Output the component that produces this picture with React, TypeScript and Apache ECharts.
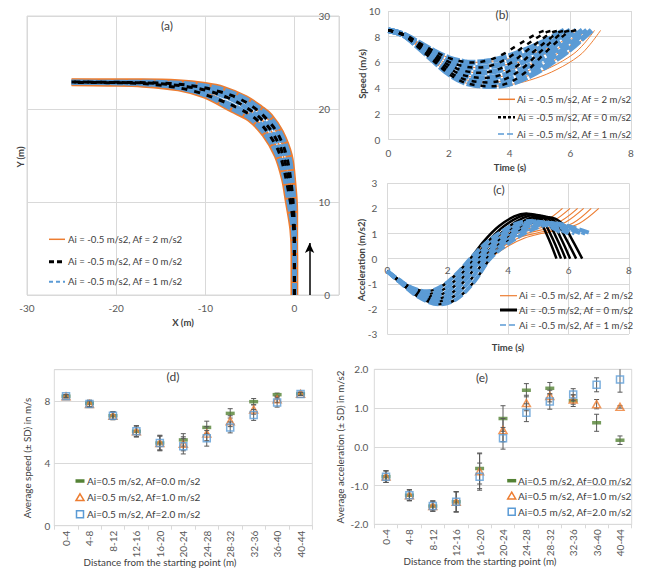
import { useEffect, useRef } from "react";
import * as echarts from "echarts";

type Pt = [number, number];

const ORANGE = "#ED7D31";
const BLACK = "#000000";
const BLUE = "#5B9BD5";
const GREEN = "#548235";
const GRIDC = "#D9D9D9";
const LABELC = "#595959";
const TEXTC = "#404040";
const FONT = "Lato, 'Liberation Sans', sans-serif";
const TICK = 10;
const LEG = 9.6;

// ---- legend texts ----
const familyNames = [
  "Ai = -0.5 m/s2, Af = 2 m/s2",
  "Ai = -0.5 m/s2, Af = 0 m/s2",
  "Ai = -0.5 m/s2, Af = 1 m/s2",
];
const avgNames = [
  "Ai=0.5 m/s2, Af=0.0 m/s2",
  "Ai=0.5 m/s2, Af=1.0 m/s2",
  "Ai=0.5 m/s2, Af=2.0 m/s2",
];

// ---- (a) trajectories X/Y (m) ----
const pathOuter: Pt[] = [[0, 0], [0, 6], [0, 9], [-0.2, 12], [-0.6, 15], [-1.6, 17.5], [-2.8, 19.2], [-3.8, 20], [-5.5, 21.1], [-8, 22.1], [-10, 22.5], [-13, 22.8], [-17, 22.9], [-25, 22.9]];
const pathMid1: Pt[] = [[0, 0], [0, 5.5], [-0.05, 8.5], [-0.3, 11.5], [-0.9, 15], [-1.9, 17.4], [-3.2, 19], [-4.6, 20.2], [-6.4, 21.2], [-8.5, 21.9], [-10.8, 22.4], [-14, 22.75], [-18, 22.85], [-25, 22.9]];
const pathMid2: Pt[] = [[0, 0], [0, 5], [-0.1, 8], [-0.4, 11], [-1.25, 15], [-2.3, 17.2], [-3.7, 18.9], [-5.3, 20.1], [-7.2, 21.1], [-9.5, 21.9], [-12, 22.4], [-15.5, 22.75], [-20, 22.85], [-25, 22.9]];
const pathMid3: Pt[] = [[0, 0], [0, 4.5], [-0.12, 7.5], [-0.55, 10.5], [-1.6, 15], [-2.8, 17.2], [-4.3, 18.9], [-6.1, 20], [-8.5, 21], [-11.2, 21.9], [-14.5, 22.5], [-18.5, 22.8], [-25, 22.85]];
const pathInner: Pt[] = [[0, 0], [0, 4], [-0.15, 7], [-0.65, 10], [-1.1, 12.5], [-1.9, 15], [-3.3, 17.3], [-5, 19], [-7, 20], [-10, 21.5], [-13, 22.3], [-17, 22.7], [-21, 22.8], [-25, 22.85]];
const arrowA: Pt[] = [[1.7, 0], [1.7, 5.6]];

// ---- (b) speed (m/s) vs time (s) ----
const speedDescent: Pt[][] = [
  [[0, 8.5], [0.5, 8.2], [1, 7.55], [1.5, 6.9], [2, 6.35], [2.5, 6.05], [2.75, 6.0]],
  [[0, 8.5], [0.5, 8.18], [1, 7.45], [1.5, 6.7], [2, 6.05], [2.5, 5.7], [2.88, 5.6]],
  [[0, 8.5], [0.5, 8.16], [1, 7.38], [1.5, 6.55], [2, 5.8], [2.5, 5.35], [3.0, 5.2]],
  [[0, 8.5], [0.5, 8.15], [1, 7.3], [1.5, 6.4], [2, 5.55], [2.5, 5.0], [3.13, 4.8]],
  [[0, 8.5], [0.5, 8.14], [1, 7.22], [1.5, 6.25], [2, 5.3], [2.5, 4.7], [3.27, 4.45]],
  [[0, 8.5], [0.5, 8.12], [1, 7.15], [1.5, 6.1], [2, 5.1], [2.5, 4.45], [3, 4.2], [3.4, 4.15]],
];
const speedRiseAf0: Pt[][] = [
  [[3.26, 6.15], [3.77, 6.63], [4.28, 7.38], [4.79, 8.1], [5.05, 8.4], [5.3, 8.5]],
  [[3.4, 5.77], [3.93, 6.33], [4.45, 7.2], [4.98, 8.04], [5.24, 8.38], [5.5, 8.5]],
  [[3.54, 5.4], [4.08, 6.03], [4.62, 7.02], [5.16, 7.97], [5.43, 8.37], [5.7, 8.5]],
  [[3.68, 5.02], [4.24, 5.73], [4.79, 6.84], [5.35, 7.91], [5.62, 8.35], [5.9, 8.5]],
  [[3.83, 4.69], [4.38, 5.46], [4.94, 6.68], [5.49, 7.85], [5.77, 8.34], [6.05, 8.5]],
  [[3.96, 4.41], [4.52, 5.24], [5.08, 6.54], [5.64, 7.8], [5.92, 8.33], [6.2, 8.5]],
];
const speedRiseAf1: Pt[][] = [
  [[3.36, 6.13], [3.97, 6.5], [4.58, 7.05], [5.19, 7.7], [5.5, 8.1], [5.8, 8.5]],
  [[3.5, 5.75], [4.13, 6.18], [4.75, 6.82], [5.38, 7.57], [5.69, 8.04], [6.0, 8.5]],
  [[3.64, 5.37], [4.28, 5.86], [4.92, 6.59], [5.56, 7.44], [5.88, 7.97], [6.2, 8.5]],
  [[3.78, 4.99], [4.44, 5.54], [5.09, 6.35], [5.75, 7.32], [6.07, 7.91], [6.4, 8.5]],
  [[3.93, 4.65], [4.58, 5.26], [5.24, 6.15], [5.9, 7.2], [6.22, 7.85], [6.55, 8.5]],
  [[4.06, 4.37], [4.72, 5.02], [5.38, 5.98], [6.04, 7.11], [6.37, 7.8], [6.7, 8.5]],
];
const speedRiseAf2: Pt[][] = [
  [[3.44, 6.1], [4.13, 6.35], [4.82, 6.75], [5.51, 7.35], [5.86, 7.85], [6.2, 8.5]],
  [[3.57, 5.72], [4.27, 6.01], [4.96, 6.47], [5.66, 7.17], [6.0, 7.75], [6.35, 8.5]],
  [[3.7, 5.33], [4.4, 5.66], [5.1, 6.19], [5.8, 6.98], [6.15, 7.64], [6.5, 8.5]],
  [[3.83, 4.95], [4.54, 5.32], [5.24, 5.91], [5.95, 6.8], [6.3, 7.54], [6.65, 8.5]],
  [[3.98, 4.61], [4.68, 5.02], [5.39, 5.67], [6.09, 6.64], [6.45, 7.45], [6.8, 8.5]],
  [[4.12, 4.32], [4.84, 4.76], [5.56, 5.46], [6.28, 6.5], [6.64, 7.37], [7.0, 8.5]],
];

// ---- (c) acceleration (m/s2) vs time (s) ----
const accDescent: Pt[][] = [
  [[0, -0.5], [0.4, -0.85], [0.8, -1.15], [1.3, -1.3], [1.8, -1.1], [2.3, -0.6], [2.75, 0]],
  [[0, -0.5], [0.4, -0.87], [0.85, -1.2], [1.38, -1.4], [1.9, -1.2], [2.4, -0.68], [2.88, 0]],
  [[0, -0.5], [0.4, -0.88], [0.9, -1.28], [1.46, -1.5], [2.0, -1.3], [2.5, -0.75], [3.0, 0]],
  [[0, -0.5], [0.4, -0.9], [0.95, -1.37], [1.54, -1.6], [2.1, -1.4], [2.62, -0.8], [3.13, 0]],
  [[0, -0.5], [0.4, -0.91], [1.0, -1.45], [1.62, -1.7], [2.2, -1.5], [2.75, -0.85], [3.27, 0]],
  [[0, -0.5], [0.4, -0.92], [1.0, -1.5], [1.7, -1.82], [2.3, -1.6], [2.9, -0.88], [3.4, 0]],
];
const accRiseAf0: Pt[][] = [
  [[3.2, 0.7], [3.7, 1.3], [4.2, 1.68], [4.6, 1.8], [5.0, 1.55], [5.3, 0.9], [5.6, 0]],
  [[3.35, 0.7], [3.85, 1.28], [4.35, 1.65], [4.75, 1.78], [5.15, 1.5], [5.45, 0.85], [5.75, 0]],
  [[3.5, 0.7], [4.0, 1.25], [4.5, 1.62], [4.9, 1.75], [5.3, 1.48], [5.6, 0.82], [5.9, 0]],
  [[3.65, 0.7], [4.15, 1.22], [4.65, 1.58], [5.05, 1.72], [5.45, 1.45], [5.75, 0.8], [6.05, 0]],
  [[3.8, 0.7], [4.3, 1.2], [4.8, 1.55], [5.2, 1.68], [5.6, 1.42], [5.92, 0.78], [6.25, 0]],
  [[3.95, 0.7], [4.45, 1.18], [4.95, 1.52], [5.35, 1.65], [5.8, 1.38], [6.12, 0.75], [6.45, 0]],
];
const accRiseAf1: Pt[][] = [
  [[3.25, 0.6], [3.75, 1.05], [4.25, 1.38], [4.75, 1.5], [5.3, 1.32], [5.8, 1.0]],
  [[3.4, 0.6], [3.9, 1.05], [4.4, 1.36], [4.9, 1.48], [5.45, 1.3], [6.0, 1.0]],
  [[3.55, 0.6], [4.05, 1.03], [4.55, 1.34], [5.05, 1.46], [5.65, 1.28], [6.2, 1.0]],
  [[3.7, 0.6], [4.2, 1.0], [4.75, 1.32], [5.25, 1.44], [5.85, 1.27], [6.4, 1.0]],
  [[3.85, 0.6], [4.35, 1.0], [4.9, 1.3], [5.4, 1.42], [6.0, 1.25], [6.55, 1.0]],
  [[4.0, 0.6], [4.5, 0.98], [5.05, 1.28], [5.55, 1.4], [6.15, 1.24], [6.75, 1.0]],
];
const accRiseAf2: Pt[][] = [
  [[3.25, 0.55], [3.75, 0.95], [4.25, 1.15], [4.75, 1.3], [5.3, 1.55], [5.8, 2.0]],
  [[3.4, 0.55], [3.9, 0.93], [4.4, 1.12], [4.95, 1.27], [5.5, 1.5], [6.05, 2.0]],
  [[3.55, 0.52], [4.05, 0.9], [4.6, 1.1], [5.15, 1.25], [5.75, 1.5], [6.3, 2.0]],
  [[3.7, 0.5], [4.2, 0.86], [4.75, 1.05], [5.3, 1.2], [5.9, 1.45], [6.5, 2.0]],
  [[3.85, 0.5], [4.4, 0.85], [4.95, 1.02], [5.5, 1.17], [6.15, 1.42], [6.75, 2.0]],
  [[4.0, 0.5], [4.55, 0.82], [5.1, 1.0], [5.7, 1.15], [6.35, 1.4], [7.0, 2.0]],
];

// ---- (d), (e) averages by distance ----
const distanceCats = ["0-4", "4-8", "8-12", "12-16", "16-20", "20-24", "24-28", "28-32", "32-36", "36-40", "40-44"];
const speedAf0 = [8.3, 7.85, 7.05, 6.05, 5.3, 5.5, 6.3, 7.2, 7.95, 8.4, 8.45];
const speedAf1 = [8.3, 7.8, 7.05, 6.05, 5.3, 5.25, 5.9, 6.7, 7.45, 8.1, 8.45];
const speedAf2 = [8.3, 7.8, 7.05, 6.05, 5.3, 5.1, 5.6, 6.3, 7.1, 7.9, 8.45];
const speedSdAf0 = [0.1, 0.2, 0.25, 0.35, 0.45, 0.4, 0.4, 0.3, 0.2, 0.1, 0.1];
const speedSdAf1 = [0.1, 0.2, 0.25, 0.35, 0.45, 0.45, 0.45, 0.35, 0.3, 0.2, 0.1];
const speedSdAf2 = [0.1, 0.2, 0.25, 0.35, 0.5, 0.5, 0.5, 0.35, 0.35, 0.3, 0.1];
const accAf0 = [-0.77, -1.25, -1.53, -1.42, -0.56, 0.73, 1.46, 1.51, 1.19, 0.62, 0.17];
const accAf1 = [-0.77, -1.25, -1.53, -1.42, -0.63, 0.43, 1.13, 1.31, 1.22, 1.1, 1.03];
const accAf2 = [-0.77, -1.25, -1.53, -1.42, -0.77, 0.22, 0.88, 1.17, 1.35, 1.6, 1.74];
const accSdAf0 = [0.15, 0.14, 0.13, 0.26, 0.4, 0.33, 0.17, 0.15, 0.15, 0.22, 0.11];
const accSdAf1 = [0.15, 0.14, 0.13, 0.26, 0.45, 0.3, 0.2, 0.15, 0.12, 0.12, 0.03];
const accSdAf2 = [0.15, 0.14, 0.13, 0.26, 0.35, 0.28, 0.23, 0.2, 0.15, 0.18, 0.33];

// ---------------- helpers ----------------
const lineS = (data: Pt[], g: number, style: any, z = 2) => ({
  type: "line",
  xAxisIndex: g,
  yAxisIndex: g,
  data,
  symbol: "none",
  showSymbol: false,
  smooth: 0.35,
  lineStyle: style,
  silent: true,
  z,
});

const errS = (vals: number[], sd: number[], g: number, z: number) => ({
  type: "custom",
  xAxisIndex: g,
  yAxisIndex: g,
  data: vals.map((v, i) => [i, v - sd[i], v + sd[i]]),
  encode: { x: 0, y: [1, 2] },
  clip: true,
  silent: true,
  z,
  renderItem: (_p: any, api: any) => {
    const x = api.value(0);
    const top = api.coord([x, api.value(2)]);
    const bot = api.coord([x, api.value(1)]);
    const hw = 2.5;
    const st = { stroke: "#595959", lineWidth: 1 };
    return {
      type: "group",
      children: [
        { type: "line", shape: { x1: top[0], y1: top[1], x2: bot[0], y2: bot[1] }, style: st },
        { type: "line", shape: { x1: top[0] - hw, y1: top[1], x2: top[0] + hw, y2: top[1] }, style: st },
        { type: "line", shape: { x1: bot[0] - hw, y1: bot[1], x2: bot[0] + hw, y2: bot[1] }, style: st },
      ],
    };
  },
});

const scatS = (vals: number[], g: number, kind: number, z: number) => {
  const base: any = {
    type: "scatter",
    xAxisIndex: g,
    yAxisIndex: g,
    data: vals.map((v, i) => [i, v]),
    silent: true,
    z,
  };
  if (kind === 0) {
    base.symbol = "rect";
    base.symbolSize = [9, 3.5];
    base.itemStyle = { color: GREEN };
  } else if (kind === 1) {
    base.symbol = "triangle";
    base.symbolSize = [8, 7];
    base.itemStyle = { color: "rgba(255,255,255,0)", borderColor: ORANGE, borderWidth: 1.5 };
  } else {
    base.symbol = "rect";
    base.symbolSize = 7;
    base.itemStyle = { color: "rgba(255,255,255,0)", borderColor: BLUE, borderWidth: 1.5 };
  }
  return base;
};

const txt = (text: string, x: number, y: number, o: any = {}) => ({
  type: "text",
  x,
  y,
  rotation: o.rot || 0,
  silent: true,
  z: 100,
  style: {
    text,
    font: `${o.bold ? "bold " : ""}${o.size || LEG}px ${FONT}`,
    fill: o.color || TEXTC,
    textAlign: o.align || "center",
    textVerticalAlign: "middle",
  },
});

const seg = (x1: number, x2: number, y: number, stroke: string, lw: number, dash?: number[]) => ({
  type: "line",
  silent: true,
  z: 100,
  shape: { x1, y1: y, x2, y2: y },
  style: { stroke, lineWidth: lw, lineDash: dash || null },
});

const lab = (extra: any = {}) => ({ color: LABELC, fontSize: TICK, fontFamily: FONT, margin: 8, ...extra });

const valueAxis = (g: number, min: number, max: number, interval: number, extra: any = {}) => ({
  type: "value",
  gridIndex: g,
  min,
  max,
  interval,
  axisLine: { show: false, onZero: false },
  axisTick: { show: false },
  splitLine: { show: true, lineStyle: { color: GRIDC, width: 1 } },
  axisLabel: lab(),
  ...extra,
});

const catAxis = (g: number) => ({
  type: "category",
  gridIndex: g,
  data: distanceCats,
  boundaryGap: true,
  axisLine: { show: true, onZero: false, lineStyle: { color: GRIDC } },
  axisTick: { show: true, length: 4, lineStyle: { color: GRIDC } },
  splitLine: { show: false },
  axisLabel: lab({ rotate: 90, margin: 5, interval: 0 }),
});

export default function App() {
  const ref = useRef<HTMLDivElement>(null);

  useEffect(() => {
    document.body.style.margin = "0";
    if (!ref.current) return;
    const chart = echarts.init(ref.current, null, { renderer: "svg" });

    const series: any[] = [];
    // (a): orange rims under a blue band, black dashes on the middle paths
    [pathOuter, pathInner].forEach((p) => series.push(lineS(p, 0, { color: ORANGE, width: 7.5 }, 2)));
    [pathMid2].forEach((p) => series.push(lineS(p, 0, { color: ORANGE, width: 1.5 }, 2)));
    [pathOuter, pathMid1, pathMid2, pathMid3, pathInner].forEach((p) =>
      series.push(lineS(p, 0, { color: BLUE, width: 4.5, type: [12, 2] }, 3))
    );
    [pathMid1, pathMid2, pathMid3].forEach((p) => series.push(lineS(p, 0, { color: BLACK, width: 3, type: [6, 7] }, 4)));
    series.push({
      type: "line",
      xAxisIndex: 0,
      yAxisIndex: 0,
      data: [],
      silent: true,
      markLine: {
        silent: true,
        symbol: ["none", "arrow"],
        symbolSize: [7, 10],
        label: { show: false },
        lineStyle: { color: BLACK, width: 1.5, type: "solid" },
        data: [[{ coord: arrowA[0] }, { coord: arrowA[1] }]],
      },
    });

    // (b)
    speedDescent.forEach((d, k) => series.push(lineS([...d, ...speedRiseAf2[k]], 1, { color: ORANGE, width: 1 }, 2)));
    speedDescent.forEach((d, k) => series.push(lineS([...d, ...speedRiseAf1[k]], 1, { color: BLUE, width: 5.5, type: [14, 2] }, 3)));
    speedDescent.forEach((d, k) => series.push(lineS([...d, ...speedRiseAf0[k]], 1, { color: BLACK, width: 2.5, type: [5, 6] }, 4)));

    // (c)
    accDescent.forEach((d, k) => series.push(lineS([...d, ...accRiseAf2[k]], 2, { color: ORANGE, width: 1.2 }, 2)));
    accDescent.forEach((d, k) => series.push(lineS([...d, ...accRiseAf0[k]], 2, { color: BLACK, width: 2.5 }, 3)));
    accDescent.forEach((d, k) => series.push(lineS([...d, ...accRiseAf1[k]], 2, { color: BLUE, width: 4, type: [10, 3] }, 4)));

    // (d)
    series.push(errS(speedAf0, speedSdAf0, 3, 5), scatS(speedAf0, 3, 0, 6));
    series.push(errS(speedAf1, speedSdAf1, 3, 7), scatS(speedAf1, 3, 1, 8));
    series.push(errS(speedAf2, speedSdAf2, 3, 9), scatS(speedAf2, 3, 2, 10));
    // (e)
    series.push(errS(accAf0, accSdAf0, 4, 5), scatS(accAf0, 4, 0, 6));
    series.push(errS(accAf1, accSdAf1, 4, 7), scatS(accAf1, 4, 1, 8));
    series.push(errS(accAf2, accSdAf2, 4, 9), scatS(accAf2, 4, 2, 10));

    // legends and titles
    const g: any[] = [];
    const la = [239.3, 261.7, 281.7];
    g.push(seg(49, 65, la[0], ORANGE, 1.5));
    g.push(seg(49, 65, la[1], BLACK, 3, [5, 3]));
    g.push(seg(49, 65, la[2], BLUE, 2, [4, 3]));
    familyNames.forEach((n, i) => g.push(txt(n, 68, la[i], { align: "left" })));
    const lb = [99.3, 117.3, 134];
    g.push(seg(498, 515, lb[0], ORANGE, 1.5));
    g.push(seg(498, 515, lb[1], BLACK, 2.5, [3, 2]));
    g.push(seg(498, 515, lb[2], BLUE, 1.5, [6, 3]));
    familyNames.forEach((n, i) => g.push(txt(n, 517, lb[i], { align: "left" })));
    const lc = [295.7, 310, 325];
    g.push(seg(500, 517, lc[0], ORANGE, 1.2));
    g.push(seg(500, 517, lc[1], BLACK, 3));
    g.push(seg(500, 517, lc[2], BLUE, 1.5, [6, 3]));
    familyNames.forEach((n, i) => g.push(txt(n, 519, lc[i], { align: "left" })));
    const legMarkers = (cx: number, ys: number[]) => {
      g.push({ type: "rect", silent: true, z: 100, shape: { x: cx - 4.5, y: ys[0] - 1.75, width: 9, height: 3.5 }, style: { fill: GREEN } });
      g.push({
        type: "polygon",
        silent: true,
        z: 100,
        shape: { points: [[cx, ys[1] - 3.5], [cx + 4, ys[1] + 3.2], [cx - 4, ys[1] + 3.2]] },
        style: { fill: "none", stroke: ORANGE, lineWidth: 1.5 },
      });
      g.push({ type: "rect", silent: true, z: 100, shape: { x: cx - 3.5, y: ys[2] - 3.5, width: 7, height: 7 }, style: { fill: "none", stroke: BLUE, lineWidth: 1.5 } });
    };
    const ld = [481, 497.3, 514.3];
    legMarkers(80, ld);
    avgNames.forEach((n, i) => g.push(txt(n, 87, ld[i], { align: "left", size: 10 })));
    const le = [480.7, 495.7, 511.7];
    legMarkers(511.7, le);
    avgNames.forEach((n, i) => g.push(txt(n, 518, le[i], { align: "left", size: 10 })));

    g.push(txt("(a)", 167, 25, { size: 12 }));
    g.push(txt("(b)", 502, 14, { size: 12 }));
    g.push(txt("(c)", 499, 189, { size: 12 }));
    g.push(txt("(d)", 173, 376, { size: 12 }));
    g.push(txt("(e)", 482, 377, { size: 12 }));
    g.push(txt("Y (m)", 20.7, 157, { bold: true, rot: Math.PI / 2, size: 9.5 }));
    g.push(txt("X (m)", 183, 322, { bold: true, size: 9.5 }));
    g.push(txt("Speed (m/s)", 362, 74, { bold: true, rot: Math.PI / 2, size: 9.5 }));
    g.push(txt("Time (s)", 510, 167, { bold: true, size: 9.5 }));
    g.push(txt("Acceleration (m/s2)", 361, 260, { bold: true, rot: Math.PI / 2, size: 9.5 }));
    g.push(txt("Time (s)", 508, 347, { bold: true, size: 9.5 }));
    g.push(txt("Average speed (\u00b1 SD) in m/s", 27, 458, { rot: Math.PI / 2, size: 9.8 }));
    g.push(txt("Distance from the starting point (m)", 160, 562, { size: 9.8 }));
    g.push(txt("Average acceleration (\u00b1 SD) in m/s2", 340, 447, { rot: Math.PI / 2, size: 9.8 }));
    g.push(txt("Distance from the starting point (m)", 480, 561, { size: 9.8 }));

    const option: any = {
      animation: false,
      backgroundColor: "#ffffff",
      textStyle: { fontFamily: FONT },
      grid: [
        { left: 27, right: 306, top: 16, bottom: 291, show: true, borderColor: GRIDC, borderWidth: 1, backgroundColor: "transparent" },
        { left: 388.3, right: 14, top: 11, bottom: 446.3 },
        { left: 387.3, right: 16, top: 183.3, bottom: 252 },
        { left: 54.3, right: 332.7, top: 369.7, bottom: 60.3, show: true, borderColor: GRIDC, borderWidth: 1, backgroundColor: "transparent" },
        { left: 374.3, right: 13.3, top: 369.3, bottom: 61.7, show: true, borderColor: GRIDC, borderWidth: 1, backgroundColor: "transparent" },
      ],
      xAxis: [
        valueAxis(0, -30, 5, 10, { axisLabel: lab({ formatter: (v: number) => (v % 10 === 0 ? String(v) : "") }) }),
        valueAxis(1, 0, 8, 2),
        valueAxis(2, 0, 8, 2, { offset: -75.3, axisLabel: lab({ margin: 6 }) }),
        catAxis(3),
        catAxis(4),
      ],
      yAxis: [
        valueAxis(0, 0, 30, 10, { position: "right", axisLabel: lab({ margin: 9, inside: true }) }),
        valueAxis(1, 0, 10, 2),
        valueAxis(2, -3, 3, 1, { axisLabel: lab({ margin: 10 }) }),
        valueAxis(3, 0, 10, 4, { axisLabel: lab({ margin: 4, formatter: (v: number) => (v % 4 === 0 ? String(v) : "") }) }),
        valueAxis(4, -2, 2, 1, { axisLabel: lab({ margin: 6, formatter: (v: number) => v.toFixed(1) }) }),
      ],
      series,
      graphic: g,
    };

    chart.setOption(option);
    return () => chart.dispose();
  }, []);

  return <div ref={ref} style={{ width: 645, height: 586 }} />;
}
